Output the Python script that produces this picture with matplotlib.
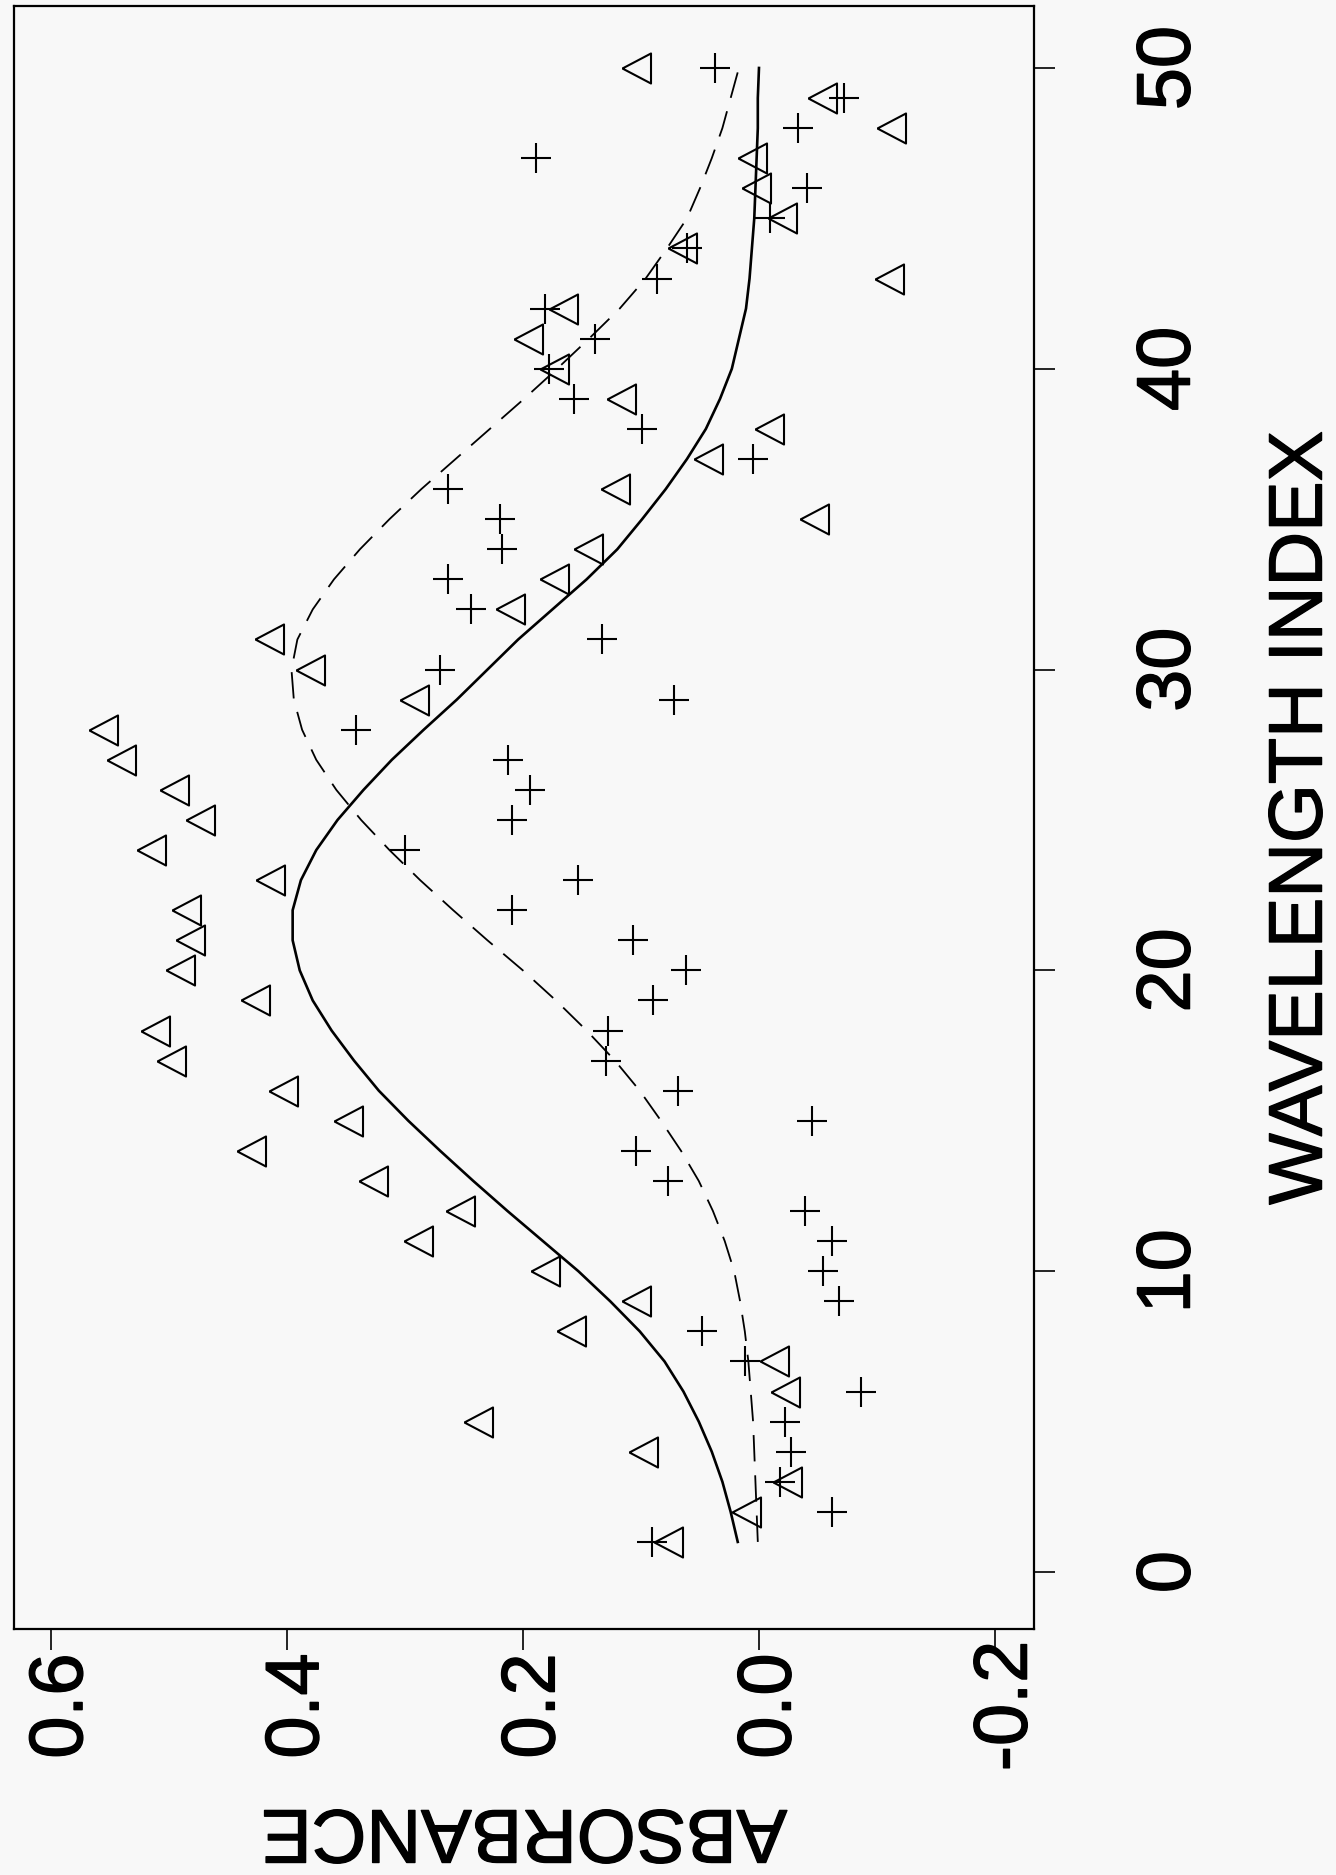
import matplotlib
matplotlib.use('Agg')
import matplotlib.pyplot as plt
import matplotlib.patheffects as pe
from matplotlib.transforms import ScaledTranslation

plt.rcParams['font.family'] = ['Liberation Sans', 'DejaVu Sans']
plt.rcParams['lines.scale_dashes'] = False

# данные: индекс длины волны 1..50 и поглощение
wavelength = list(range(1, 51))

triangles = [0.073, 0.007, -0.028, 0.094, 0.234, -0.026, -0.017, 0.155, 0.100, 0.177,
             0.285, 0.249, 0.323, 0.426, 0.344, 0.399, 0.494, 0.507, 0.423, 0.486,
             0.478, 0.481, 0.410, 0.511, 0.469, 0.491, 0.536, 0.551, 0.288, 0.376,
             0.411, 0.207, 0.169, 0.141, -0.051, 0.118, 0.039, -0.013, 0.113, 0.169,
             0.191, 0.162, -0.114, 0.061, -0.024, -0.002, 0.002, -0.116, -0.058, 0.100]

pluses = [0.091, -0.062, -0.018, -0.027, -0.022, -0.086, 0.012, 0.048, -0.068, -0.054,
          -0.062, -0.039, 0.077, 0.104, -0.045, 0.069, 0.130, 0.128, 0.090, 0.062,
          0.107, 0.209, 0.153, 0.300, 0.209, 0.194, 0.213, 0.341, 0.072, 0.270,
          0.133, 0.244, 0.263, 0.218, 0.219, 0.263, 0.005, 0.099, 0.157, 0.178,
          0.139, 0.181, 0.086, 0.061, -0.009, -0.041, 0.189, -0.033, -0.072, 0.037]

# сплошная кривая (подгонка)
solid_fit = [0.018, 0.024, 0.031, 0.040, 0.051, 0.064, 0.080, 0.101, 0.126, 0.153,
             0.183, 0.213, 0.242, 0.270, 0.297, 0.322, 0.343, 0.362, 0.378, 0.389,
             0.395, 0.395, 0.388, 0.375, 0.357, 0.335, 0.311, 0.284, 0.256, 0.230,
             0.204, 0.175, 0.146, 0.120, 0.099, 0.079, 0.061, 0.045, 0.033, 0.023,
             0.017, 0.011, 0.008, 0.006, 0.004, 0.003, 0.002, 0.001, 0.001, 0.000]

# пунктирная кривая
dashed_fit = [0.001, 0.002, 0.003, 0.004, 0.005, 0.007, 0.009, 0.012, 0.016, 0.021,
              0.029, 0.039, 0.051, 0.066, 0.083, 0.101, 0.122, 0.146, 0.172, 0.200,
              0.230, 0.259, 0.287, 0.313, 0.337, 0.358, 0.375, 0.387, 0.394, 0.396,
              0.391, 0.378, 0.360, 0.338, 0.313, 0.286, 0.257, 0.228, 0.199, 0.171,
              0.144, 0.118, 0.096, 0.078, 0.061, 0.050, 0.040, 0.031, 0.024, 0.017]

abs_ticks = [0.6, 0.4, 0.2, 0.0, -0.2]
abs_labels = ['0.6', '0.4', '0.2', '0.0', '-0.2']
wl_ticks = [0, 10, 20, 30, 40, 50]

bg = '#f8f8f8'
fs = 54.5
thick = [pe.withStroke(linewidth=1.0, foreground='black')]

fig = plt.figure(figsize=(13.36, 18.75), dpi=100, facecolor=bg)
ax = fig.add_axes([0.0105, 0.1312, 0.7635, 0.8656], facecolor=bg)

# треугольник, центр в центре масс (как в R)
tri = [(-19, 0), (9.5, 15), (9.5, -15), (-19, 0)]

ax.plot(solid_fit, wavelength, color='black', lw=1.9)
ax.plot(dashed_fit, wavelength, color='black', lw=1.3, dashes=(19, 10))
ax.plot(triangles, wavelength, ls='none', marker=tri, ms=27.4,
        mfc='none', mec='black', mew=1.5)
ax.plot(pluses, wavelength, ls='none', marker='+', ms=22, mec='black', mew=1.5)

ax.set_xlim(0.631, -0.233)
ax.set_ylim(-1.895, 52.06)

ax.xaxis.set_ticks_position('bottom')
ax.yaxis.set_ticks_position('right')
ax.set_xticks(abs_ticks)
ax.set_xticklabels([])
ax.set_yticks(wl_ticks)
ax.set_yticklabels([])
ax.tick_params(length=15, width=1.2, direction='out', color='black')
for sp in ax.spines.values():
    sp.set_linewidth(1.6)

# подписи делений (картинка повернута)
off = ScaledTranslation(0.12, 0, fig.dpi_scale_trans)
for v, s in zip(abs_ticks, abs_labels):
    ax.text(v, -0.0474, s, transform=ax.get_xaxis_transform() + off,
            rotation=90, ha='center', va='center', fontsize=fs, path_effects=thick)
for w in wl_ticks:
    ax.text(1.1333, w, str(w), transform=ax.get_yaxis_transform(),
            rotation=90, ha='center', va='center', fontsize=fs, path_effects=thick)

ax.text(1.2627, 0.5, 'WAVELENGTH INDEX', transform=ax.transAxes,
        rotation=90, ha='center', va='center', fontsize=fs, path_effects=thick)
ax.text(0.5, -0.1238, 'ABSORBANCE', transform=ax.transAxes,
        rotation=180, ha='center', va='center', fontsize=fs, path_effects=thick)

fig.savefig('out.png', dpi=100, facecolor=bg)
